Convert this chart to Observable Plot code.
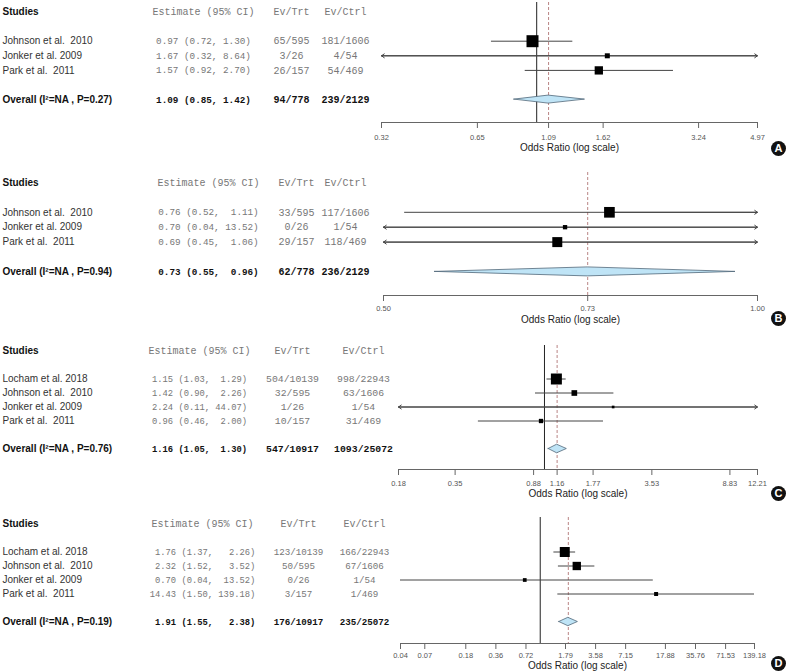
<!DOCTYPE html>
<html><head><meta charset="utf-8">
<script src="https://cdn.jsdelivr.net/npm/d3@7"></script>
<script src="https://cdn.jsdelivr.net/npm/@observablehq/plot@0.6"></script>
<style>body{margin:0;background:#fff} svg{display:block}</style>
</head><body><div id="chart"></div>
<script>
// ---------- Data ----------
const headers = ["Studies", "Estimate (95% CI)", "Ev/Trt", "Ev/Ctrl"];
const axisTitle = "Odds Ratio (log scale)";

// Panel A
const studiesA = ["Johnson et al.  2010", "Jonker et al. 2009", "Park et al.  2011"];
const estA = [0.97, 1.67, 1.57];
const loA = [0.72, 0.32, 0.92];
const hiA = [1.30, 8.64, 2.70];
const trtA = ["65/595", "3/26", "26/157"];
const ctrlA = ["181/1606", "4/54", "54/469"];
const weightA = [60.5, 10.5, 29];
const overallA = [1.09, 0.85, 1.42];
const overallLabelA = "Overall (I²=NA , P=0.27)";
const overallEvA = ["94/778", "239/2129"];
const ticksA = [0.324, 0.65, 1.09, 1.62, 3.24, 4.97];

// Panel B
const studiesB = ["Johnson et al.  2010", "Jonker et al. 2009", "Park et al.  2011"];
const estB = [0.76, 0.70, 0.69];
const loB = [0.52, 0.04, 0.45];
const hiB = [1.11, 13.52, 1.06];
const trtB = ["33/595", "0/26", "29/157"];
const ctrlB = ["117/1606", "1/54", "118/469"];
const weightB = [49, 8, 43];
const overallB = [0.73, 0.55, 0.96];
const overallLabelB = "Overall (I²=NA , P=0.94)";
const overallEvB = ["62/778", "236/2129"];
const ticksB = [0.50, 0.73, 1.00];

// Panel C
const studiesC = ["Locham et al. 2018", "Johnson et al.  2010", "Jonker et al. 2009", "Park et al.  2011"];
const estC = [1.15, 1.42, 2.24, 0.96];
const loC = [1.03, 0.90, 0.11, 0.46];
const hiC = [1.29, 2.26, 44.07, 2.00];
const trtC = ["504/10139", "32/595", "1/26", "10/157"];
const ctrlC = ["998/22943", "63/1606", "1/54", "31/469"];
const weightC = [67.5, 18, 4, 10.5];
const overallC = [1.16, 1.05, 1.30];
const overallLabelC = "Overall (I²=NA , P=0.76)";
const overallEvC = ["547/10917", "1093/25072"];
const ticksC = [0.18, 0.35, 0.88, 1.16, 1.77, 3.53, 8.83, 12.21];

// Panel D
const studiesD = ["Locham et al. 2018", "Johnson et al.  2010", "Jonker et al. 2009", "Park et al.  2011"];
const estD = [1.76, 2.32, 0.70, 14.43];
const loD = [1.37, 1.52, 0.04, 1.50];
const hiD = [2.26, 3.52, 13.52, 139.18];
const trtD = ["123/10139", "50/595", "0/26", "3/157"];
const ctrlD = ["166/22943", "67/1606", "1/54", "1/469"];
const weightD = [50, 35, 7, 8];
const overallD = [1.91, 1.55, 2.38];
const overallLabelD = "Overall (I²=NA , P=0.19)";
const overallEvD = ["176/10917", "235/25072"];
const ticksD = [0.04, 0.07, 0.18, 0.36, 0.72, 1.79, 3.58, 7.15, 17.88, 35.76, 71.53, 139.18];

// ---------- Rendering ----------
const sans = "'Liberation Sans', Arial, sans-serif";
const mono = "'Liberation Mono', 'Courier New', monospace";
const nb = s => s.replace(/ /g, "\u00A0");
const f2 = v => v.toFixed(2);
const W = 788;

function estString(e, l, h, w) {
  return nb(f2(e).padStart(w[0]) + " (" + f2(l).padStart(w[1]) + ", " + f2(h).padStart(w[2]) + ")");
}

function panel(d, lay) {
  const dmin = d.ticks[0], dmax = d.ticks[d.ticks.length - 1];
  const allE = [...d.est, d.overall[0]], allL = [...d.lo, d.overall[1]], allH = [...d.hi, d.overall[2]];
  const w = [allE, allL, allH].map(a => d3.max(a, v => f2(v).length));
  const rows = d.studies.map((s, i) => ({
    name: nb(s), est: d.est[i], lo: d.lo[i], hi: d.hi[i],
    trt: nb(d.trt[i]), ctrl: nb(d.ctrl[i]), w: d.weight[i], row: i + 2,
    ci: estString(d.est[i], d.lo[i], d.hi[i], w)
  }));
  const oRow = d.studies.length + 3;
  const ov = {name: d.overallLabel, est: d.overall[0], lo: d.overall[1], hi: d.overall[2],
    trt: d.overallEv[0], ctrl: d.overallEv[1], row: oRow,
    ci: estString(d.overall[0], d.overall[1], d.overall[2], w)};
  const L = lay.marginLeft;
  const hd = lay.diamondHalf / lay.step;
  const axisRow = (lay.height - lay.marginBottom - lay.rowTop) / lay.step;
  const tickLen = 6 / lay.step;
  const diamond = [
    {x: ov.lo, y1: oRow, y2: oRow},
    {x: ov.est, y1: oRow - hd, y2: oRow + hd},
    {x: ov.hi, y1: oRow, y2: oRow}
  ];
  const leftArrows = rows.filter(r => r.lo < dmin);
  const rightArrows = rows.filter(r => r.hi > dmax);
  const frameRight = W - lay.marginRight;
  const hdr = [{row: 0}];
  const cols = [
    {key: "name", dx: 2 - L, anchor: "start", font: sans},
    {key: "ci", dx: lay.estX - L, anchor: "middle", font: mono},
    {key: "trt", dx: lay.trtX - L, anchor: "middle", font: mono},
    {key: "ctrl", dx: lay.ctrlX - L, anchor: "middle", font: mono}
  ];
  const colSize = [10, lay.estSize, lay.evSize, lay.evSize];
  const marks = [
    Plot.ruleX([1].filter(v => v > dmin && v < dmax), {stroke: "#222", strokeWidth: 1}),
    Plot.ruleX([ov.est], {stroke: "#b98585", strokeWidth: 1, strokeDasharray: "3,2"}),
    // axis
    Plot.ruleY([axisRow], {x1: dmin, x2: dmax, stroke: "#666", strokeWidth: 1}),
    Plot.ruleX(d.ticks, {x: t => t, y1: axisRow, y2: axisRow + tickLen, stroke: "#666", strokeWidth: 1}),
    Plot.text(d.ticks, {x: t => t, text: f2, frameAnchor: "bottom", dy: lay.tickDy, lineAnchor: "middle", textAnchor: "middle", fontFamily: sans, fontSize: 7.5, fill: "#555"}),
    // CIs
    Plot.ruleY(rows, {y: "row", x1: r => Math.max(r.lo, dmin), x2: r => Math.min(r.hi, dmax), stroke: "#444", strokeWidth: 1}),
    Plot.arrow(leftArrows, {x1: "est", x2: () => dmin, y1: "row", y2: "row", stroke: "#444", strokeWidth: 1, headLength: 5, headAngle: 70}),
    Plot.arrow(rightArrows, {x1: "est", x2: () => dmax, y1: "row", y2: "row", stroke: "#444", strokeWidth: 1, headLength: 5, headAngle: 70}),
    Plot.dot(rows, {x: "est", y: "row", r: "w", symbol: "square", fill: "#000", stroke: "none"}),
    Plot.areaY(diamond, {x: "x", y1: "y1", y2: "y2", fill: "#bfe4f6", stroke: "#52687a", strokeWidth: 0.8}),
    // headers
    Plot.text(hdr, {y: "row", text: () => headers[0], frameAnchor: "left", dx: 2 - L, textAnchor: "start", fontFamily: sans, fontWeight: "bold", fontSize: 10, fill: "#111"}),
    ...[1, 2, 3].map(k => Plot.text(hdr, {y: "row", text: () => nb(headers[k]), frameAnchor: "left", dx: cols[k].dx, textAnchor: "middle", fontFamily: mono, fontSize: 10, fill: "#777"})),
    // study rows
    ...cols.map((c, k) => Plot.text(rows, {y: "row", text: c.key, frameAnchor: "left", dx: c.dx, textAnchor: c.anchor, fontFamily: c.font, fontSize: colSize[k], fill: k === 0 ? "#333" : "#777"})),
    // overall row
    ...cols.map((c, k) => Plot.text([ov], {y: "row", text: c.key, frameAnchor: "left", dx: c.dx, textAnchor: c.anchor, fontFamily: c.font, fontWeight: "bold", fontSize: colSize[k], fill: "#111"})),
    // axis title
    Plot.text([axisTitle], {text: t => t, frameAnchor: "bottom", dy: lay.titleDy, lineAnchor: "middle", textAnchor: "middle", fontFamily: sans, fontSize: 10, fill: "#222"}),
    // panel letter
    Plot.dot([lay.letter], {frameAnchor: "bottom-right", dx: 778 - frameRight, dy: lay.letterDy, r: 7.5, fill: "#111", stroke: "none"}),
    Plot.text([lay.letter], {text: t => t, frameAnchor: "bottom-right", dx: 778 - frameRight, dy: lay.letterDy, textAnchor: "middle", lineAnchor: "middle", fill: "#fff", fontWeight: "bold", fontSize: 11, fontFamily: sans})
  ];
  return Plot.plot({
    width: W,
    height: lay.height,
    marginLeft: lay.marginLeft,
    marginRight: lay.marginRight,
    marginTop: lay.marginTop,
    marginBottom: lay.marginBottom,
    style: {fontFamily: sans, fontSize: "8px", color: "#555", background: "white", overflow: "visible"},
    x: {type: "log", domain: [dmin, dmax], axis: null},
    y: {domain: [0, 10], range: [lay.rowTop, lay.rowTop + 10 * lay.step], axis: null},
    r: {type: "sqrt", domain: [0, 100], range: [0, lay.rMax]},
    marks
  });
}

const panels = [
  [{studies: studiesA, est: estA, lo: loA, hi: hiA, trt: trtA, ctrl: ctrlA, weight: weightA, overall: overallA, overallLabel: overallLabelA, overallEv: overallEvA, ticks: ticksA},
   {letter: "A", height: 165, marginLeft: 381, marginRight: 31, marginTop: 2, marginBottom: 43, rowTop: 11.5, step: 14.6, estX: 203, trtX: 291, ctrlX: 345, estSize: 9.3, evSize: 10, tickDy: 15, titleDy: 25, letterDy: 26, diamondHalf: 4, rMax: 8.7}],
  [{studies: studiesB, est: estB, lo: loB, hi: hiB, trt: trtB, ctrl: ctrlB, weight: weightB, overall: overallB, overallLabel: overallLabelB, overallEv: overallEvB, ticks: ticksB},
   {letter: "B", height: 160, marginLeft: 383, marginRight: 31, marginTop: 7, marginBottom: 30, rowTop: 17, step: 14.9, estX: 208, trtX: 296, ctrlX: 345, estSize: 9.3, evSize: 10, tickDy: 13, titleDy: 24, letterDy: 23, diamondHalf: 4.5, rMax: 8.6}],
  [{studies: studiesC, est: estC, lo: loC, hi: hiC, trt: trtC, ctrl: ctrlC, weight: weightC, overall: overallC, overallLabel: overallLabelC, overallEv: overallEvC, ticks: ticksC},
   {letter: "C", height: 175, marginLeft: 398, marginRight: 31, marginTop: 20, marginBottom: 31, rowTop: 25.5, step: 14, estX: 199, trtX: 292, ctrlX: 363, estSize: 8.8, evSize: 9.8, tickDy: 14, titleDy: 24, letterDy: 24, diamondHalf: 4.3, rMax: 7.55}],
  [{studies: studiesD, est: estD, lo: loD, hi: hiD, trt: trtD, ctrl: ctrlD, weight: weightD, overall: overallD, overallLabel: overallLabelD, overallEv: overallEvD, ticks: ticksD},
   {letter: "D", height: 172, marginLeft: 400, marginRight: 34, marginTop: 17, marginBottom: 29, rowTop: 23.5, step: 14, estX: 202, trtX: 298, ctrlX: 364, estSize: 8.8, evSize: 9.2, tickDy: 12.5, titleDy: 22.5, letterDy: 20, diamondHalf: 4.2, rMax: 7.96}]
];

const root = document.getElementById("chart");
for (const [d, lay] of panels) root.appendChild(panel(d, lay));
</script>
</body></html>
